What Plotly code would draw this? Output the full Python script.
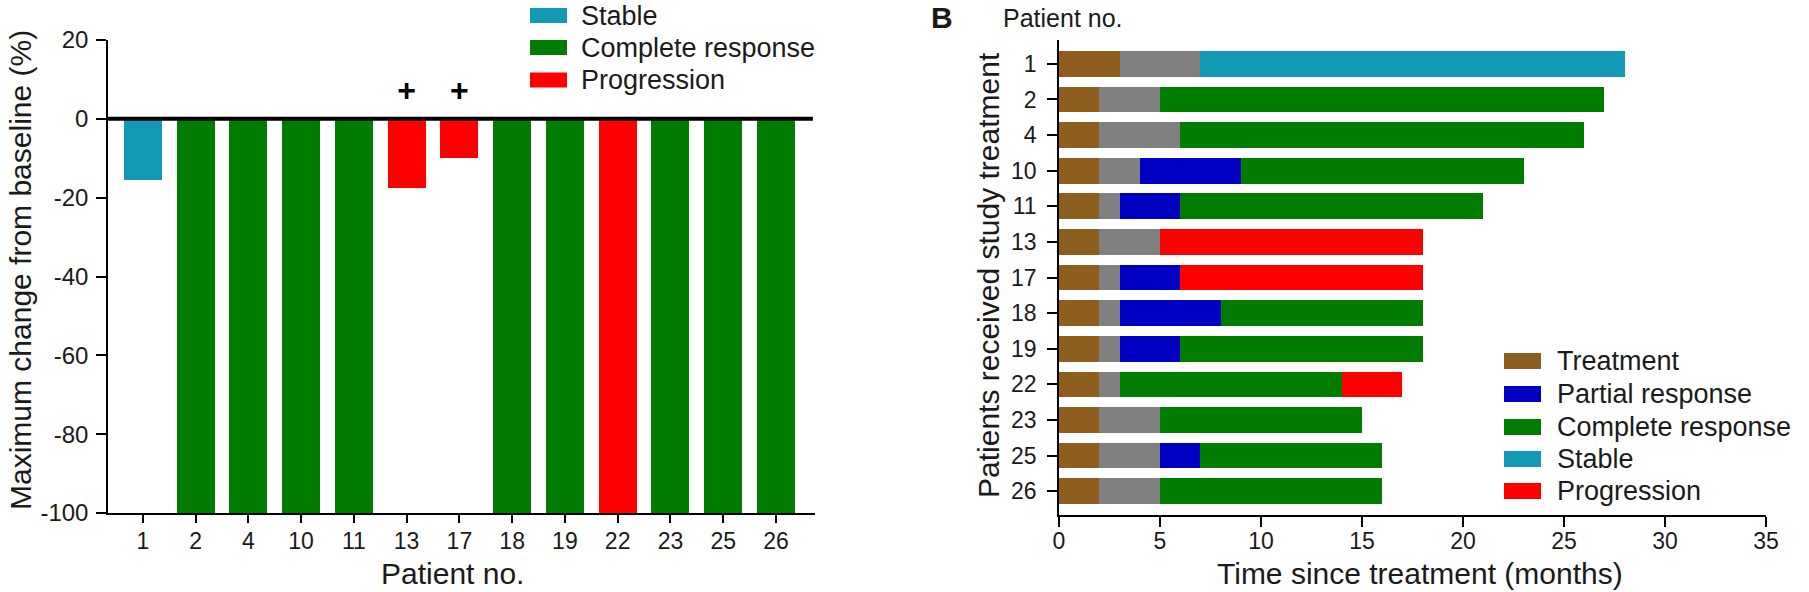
import plotly.graph_objects as go

# ---------------- data ----------------
patients = ["1", "2", "4", "10", "11", "13", "17", "18", "19", "22", "23", "25", "26"]

# Panel A: maximum change from baseline (%)
max_change = [-15.5, -100, -100, -100, -100, -17.5, -10, -100, -100, -100, -100, -100, -100]
status_a = ["Stable", "Complete response", "Complete response", "Complete response",
            "Complete response", "Progression", "Progression", "Complete response",
            "Complete response", "Progression", "Complete response", "Complete response",
            "Complete response"]
plus_patients = ["13", "17"]
plus_y = [6.5, 6.5]

# Panel B: durations (months) of each phase, stacked in this order
treatment = [3, 2, 2, 2, 2, 2, 2, 2, 2, 2, 2, 2, 2]
interval = [4, 3, 4, 2, 1, 3, 1, 1, 1, 1, 3, 3, 3]
partial = [0, 0, 0, 5, 3, 0, 3, 5, 3, 0, 0, 2, 0]
complete = [0, 22, 20, 14, 15, 0, 0, 10, 12, 11, 10, 9, 11]
stable = [21, 0, 0, 0, 0, 0, 0, 0, 0, 0, 0, 0, 0]
progression = [0, 0, 0, 0, 0, 13, 12, 0, 0, 3, 0, 0, 0]

legend_a = ["Stable", "Complete response", "Progression"]
legend_b = ["Treatment", "Partial response", "Complete response", "Stable", "Progression"]

# ---------------- styles ----------------
W, H = 1809, 592
FONT = "Liberation Sans, Arial, sans-serif"
TXT = "#1a1a1a"
colors = {
    "Treatment": "#8E5E1E",
    "Interval": "#808080",
    "Partial response": "#0000C2",
    "Complete response": "#007C00",
    "Stable": "#1199B5",
    "Progression": "#FF0000",
}


def px(x):
    return x / W


def py(y):
    return 1 - y / H


fig = go.Figure()

# Panel A bars
fig.add_trace(go.Bar(
    x=patients, y=max_change, width=0.72,
    marker=dict(color=[colors[s] for s in status_a], line=dict(width=0)),
    xaxis="x", yaxis="y", showlegend=False,
))
fig.add_trace(go.Scatter(
    x=plus_patients, y=plus_y, mode="text", text=["<b>+</b>"] * len(plus_patients),
    textfont=dict(size=32, color="black", family=FONT),
    xaxis="x", yaxis="y", showlegend=False,
))

# Panel B stacked horizontal bars
phases = [("Treatment", treatment), ("Interval", interval), ("Partial response", partial),
          ("Complete response", complete), ("Stable", stable), ("Progression", progression)]
for name, vals in phases:
    fig.add_trace(go.Bar(
        y=patients, x=[v if v else None for v in vals], orientation="h", width=0.72,
        name=name, marker=dict(color=colors[name], line=dict(width=0)),
        xaxis="x2", yaxis="y2", showlegend=False,
    ))

axis_common = dict(showline=True, linecolor="black", linewidth=1.5, ticks="outside",
                   tickcolor="black", tickwidth=1.5, showgrid=False, zeroline=False,
                   automargin=False)

yticks_a = [20, 0, -20, -40, -60, -80, -100]
xticks_b = [0, 5, 10, 15, 20, 25, 30, 35]

fig.update_layout(
    width=W, height=H, margin=dict(l=0, r=0, t=0, b=0, pad=0, autoexpand=False),
    paper_bgcolor="white", plot_bgcolor="white", hovermode=False,
    barmode="stack", font=dict(family=FONT, color=TXT),
    xaxis=dict(domain=[px(108), px(815)], anchor="y", type="category",
               range=[-0.66, 12.74], ticklen=8, ticklabelstandoff=-1,
               tickfont=dict(size=23, color=TXT, family=FONT), **axis_common),
    yaxis=dict(domain=[py(513), py(40)], anchor="x", range=[-100, 20],
               tickvals=yticks_a, ticktext=[str(v) for v in yticks_a], ticklen=10,
               ticklabelstandoff=3,
               tickfont=dict(size=24, color=TXT, family=FONT), **axis_common),
    xaxis2=dict(domain=[px(1059), px(1766)], anchor="y2", range=[0, 35],
                tickvals=xticks_b, ticktext=[str(v) for v in xticks_b], ticklen=10,
                ticklabelstandoff=-5,
                tickfont=dict(size=23, color=TXT, family=FONT), **axis_common),
    yaxis2=dict(domain=[py(515), py(40)], anchor="x2", type="category",
                range=[12.67, -0.67], ticklen=10, ticklabelstandoff=6,
                tickfont=dict(size=23, color=TXT, family=FONT), **axis_common),
)

# zero line in panel A
fig.add_shape(type="line", xref="x domain", yref="y", x0=0, x1=0.997, y0=0, y1=0,
              line=dict(color="black", width=4), layer="above")

annotations = [
    dict(text="Maximum change from baseline (%)", x=px(20), y=py(270), textangle=-90,
         font=dict(size=30)),
    dict(text="Patient no.", x=px(452), y=py(573), font=dict(size=30)),
    dict(text="Time since treatment (months)", x=px(1420), y=py(573), font=dict(size=30)),
    dict(text="Patients received study treatment", x=px(989), y=py(275), textangle=-90,
         font=dict(size=30)),
    dict(text="Patient no.", x=px(1063), y=py(18), font=dict(size=25)),
    dict(text="<b>B</b>", x=px(942), y=py(18), font=dict(size=30)),
]

# manual legends
leg_a_rows = [15.5, 47.5, 80]
for name, yc in zip(legend_a, leg_a_rows):
    fig.add_shape(type="rect", xref="paper", yref="paper", x0=px(530), x1=px(567),
                  y0=py(yc + 7.5), y1=py(yc - 7.5), fillcolor=colors[name],
                  line=dict(width=0))
    annotations.append(dict(text=name, x=px(580), y=py(yc), xanchor="left",
                            font=dict(size=27)))

leg_b_rows = [361, 394, 427, 459, 491]
for name, yc in zip(legend_b, leg_b_rows):
    fig.add_shape(type="rect", xref="paper", yref="paper", x0=px(1504), x1=px(1541),
                  y0=py(yc + 8), y1=py(yc - 8), fillcolor=colors[name],
                  line=dict(width=0))
    annotations.append(dict(text=name, x=px(1556), y=py(yc), xanchor="left",
                            font=dict(size=27)))

for a in annotations:
    a.setdefault("xanchor", "center")
    a.update(xref="paper", yref="paper", yanchor="middle", showarrow=False, borderpad=0)
    a["font"].update(family=FONT, color=TXT)
fig.update_layout(annotations=annotations)

fig.write_html(
    "out.html",
    config={"displayModeBar": False},
    post_script="document.body.style.margin='0px';document.body.style.overflow='hidden';",
)
